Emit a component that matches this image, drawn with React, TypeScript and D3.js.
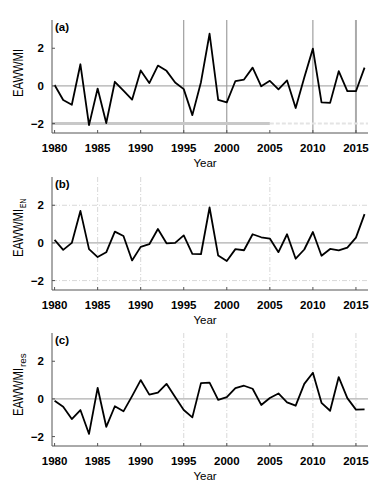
import React from 'react';
import * as d3 from 'd3';

// years 1980..2016
const years = d3.range(1980, 2017);

const eawmi = [
  0.05, -0.75, -1.0, 1.15, -2.08, -0.14, -1.97, 0.22, -0.25, -0.73,
  0.82, 0.15, 1.08, 0.8, 0.18, -0.17, -1.55, 0.2, 2.77, -0.74,
  -0.87, 0.26, 0.34, 0.97, -0.02, 0.27, -0.18, 0.29, -1.17, 0.45,
  1.98, -0.87, -0.9, 0.78, -0.28, -0.28, 0.97,
];

const eawmiEN = [
  0.16, -0.37, 0.0, 1.7, -0.33, -0.75, -0.5, 0.6, 0.37, -0.93,
  -0.21, -0.07, 0.74, -0.02, 0.0, 0.4, -0.58, -0.6, 1.88, -0.67,
  -0.96, -0.33, -0.39, 0.46, 0.3, 0.23, -0.49, 0.46, -0.84, -0.35,
  0.58, -0.68, -0.32, -0.4, -0.25, 0.28, 1.53,
];

const eawmiRes = [
  -0.1, -0.41, -1.07, -0.59, -1.86, 0.59, -1.48, -0.39, -0.66, 0.15,
  1.0, 0.23, 0.34, 0.8, 0.1, -0.59, -0.98, 0.84, 0.86, -0.05,
  0.09, 0.57, 0.7, 0.54, -0.32, 0.05, 0.29, -0.18, -0.36, 0.8,
  1.39, -0.21, -0.63, 1.16, 0.04, -0.57, -0.55,
];

const xTicks = [1980, 1985, 1990, 1995, 2000, 2005, 2010, 2015];
const yTicks = [-2, 0, 2];

const LEFT = 52;
const RIGHT = 368;
const H = 113;
const FONT = 'Arial, "Liberation Sans", Helvetica, sans-serif';

interface PanelProps {
  top: number;
  values: number[];
  tag: string;
  sub?: string;
  kind: 'a' | 'b' | 'c';
  labelBottom: number;
}

function Panel({ top, values, tag, sub, kind, labelBottom }: PanelProps) {
  const x = d3.scaleLinear().domain([1979.7, 2016.4]).range([LEFT, RIGHT]);
  const y = d3.scaleLinear().domain([-2.5, 3.5]).range([top + H, top]);
  const line = d3.line<number>().x((_, i) => x(years[i])).y(d => y(d));
  const bottom = top + H;

  let grid: React.ReactNode = null;
  if (kind === 'a') {
    grid = (
      <g>
        {[1995, 2000, 2010].map(v => (
          <line key={v} x1={x(v)} x2={x(v)} y1={top} y2={bottom} stroke="#8c8c8c" strokeWidth={1} />
        ))}
        <line x1={x(2015)} x2={x(2015)} y1={top} y2={bottom} stroke="#aaa" strokeWidth={2} />
        <line x1={LEFT} x2={x(2005)} y1={y(-2)} y2={y(-2)} stroke="#c8c8c8" strokeWidth={3} />
        <line x1={x(2005)} x2={RIGHT} y1={y(-2)} y2={y(-2)} stroke="#e4e4e4" strokeWidth={2} strokeDasharray="4 2" />
      </g>
    );
  } else if (kind === 'b') {
    grid = (
      <g>
        {[1985, 1990, 2005].map(v => (
          <line key={v} x1={x(v)} x2={x(v)} y1={top} y2={bottom} stroke="#d8d8d8" strokeWidth={1} strokeDasharray="5 2 1 2" />
        ))}
        {[2, -2].map(v => (
          <line key={v} x1={LEFT} x2={RIGHT} y1={y(v)} y2={y(v)} stroke="#d8d8d8" strokeWidth={1} strokeDasharray="5 2 1 2" />
        ))}
      </g>
    );
  } else {
    grid = (
      <g>
        {[1995, 2000, 2010, 2015].map(v => (
          <line key={v} x1={x(v)} x2={x(v)} y1={top} y2={bottom} stroke="#d8d8d8" strokeWidth={1} strokeDasharray="5 2 1 2" />
        ))}
      </g>
    );
  }

  const lb = top + labelBottom;

  return (
    <g>
      {grid}
      <line x1={LEFT} x2={RIGHT} y1={y(0)} y2={y(0)} stroke="#9a9a9a" strokeWidth={1} />
      <path d={line(values) ?? ''} fill="none" stroke="#000" strokeWidth={1.8} strokeLinejoin="round" />
      {/* axes */}
      <line x1={LEFT} x2={LEFT} y1={top} y2={bottom} stroke="#555" strokeWidth={1} />
      <line x1={LEFT} x2={RIGHT} y1={bottom} y2={bottom} stroke="#555" strokeWidth={1} />
      {yTicks.map(t => (
        <g key={t}>
          <line x1={LEFT} x2={LEFT + 3} y1={y(t)} y2={y(t)} stroke="#555" />
          <text x={44} y={y(t)} dy="0.35em" textAnchor="end" fontFamily={FONT} fontWeight="bold" fontSize={11.5}>
            {t < 0 ? `\u2212${-t}` : t}
          </text>
        </g>
      ))}
      {xTicks.map(t => (
        <g key={t}>
          <line x1={x(t)} x2={x(t)} y1={bottom} y2={bottom - 3} stroke="#555" />
          <text x={x(t)} y={bottom + 18.5} textAnchor="middle" fontFamily={FONT} fontWeight="bold" fontSize={11.5}>
            {t}
          </text>
        </g>
      ))}
      <text x={LEFT + 3} y={top + 11} fontFamily={FONT} fontWeight="bold" fontSize={11.5}>{tag}</text>
      <text x={205} y={bottom + 34} textAnchor="middle" fontFamily={FONT} fontSize={11.5}>Year</text>
      <g transform={`translate(23,${lb}) rotate(-90)`}>
        <text x={0} y={0} fontFamily={FONT} fontSize={14} textLength={48} lengthAdjust="spacingAndGlyphs">
          EAWWMI
        </text>
        {sub && (
          <text x={49} y={3} fontFamily={FONT} fontSize={9} textLength={sub.length * 4.6} lengthAdjust="spacingAndGlyphs">
            {sub}
          </text>
        )}
      </g>
    </g>
  );
}

export default function App() {
  return (
    <svg
      width={385}
      height={484}
      style={{ position: 'absolute', left: 0, top: 0, background: '#fff' }}
    >
      <rect width={385} height={484} fill="#fff" />
      <Panel top={20} values={eawmi} tag="(a)" kind="a" labelBottom={77} />
      <Panel top={177} values={eawmiEN} tag="(b)" sub="EN" kind="b" labelBottom={80} />
      <Panel top={333} values={eawmiRes} tag="(c)" sub="res" kind="c" labelBottom={83} />
    </svg>
  );
}
